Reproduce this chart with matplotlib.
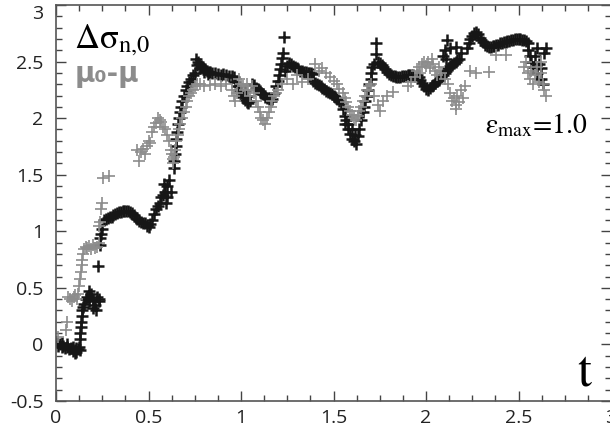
import matplotlib
matplotlib.use("Agg")
import matplotlib.pyplot as plt
from matplotlib.ticker import MultipleLocator

# black "+" series: delta sigma_{n,0}(t)
black_t = [
    0.005, 0.01, 0.02, 0.03, 0.03, 0.04, 0.05, 0.06, 0.06, 0.07, 0.08, 0.09, 0.09, 0.10, 0.10,
    0.11, 0.11, 0.12, 0.125, 0.13,
    0.13, 0.13, 0.135, 0.135, 0.14, 0.14, 0.145,
    0.15, 0.16, 0.17, 0.18, 0.18, 0.19, 0.20, 0.20, 0.21, 0.215, 0.22, 0.23, 0.235,
    0.227,
    0.24, 0.24, 0.245, 0.25,
    0.26, 0.27, 0.28, 0.29, 0.30, 0.31, 0.32, 0.33, 0.34, 0.35, 0.36, 0.37, 0.38, 0.39, 0.40,
    0.41, 0.42, 0.43, 0.44, 0.45, 0.46, 0.47, 0.48, 0.49, 0.50, 0.51,
    0.52, 0.53, 0.54, 0.55, 0.56, 0.57, 0.58, 0.585, 0.59, 0.595, 0.60, 0.60, 0.61, 0.62,
    0.64, 0.64, 0.645, 0.65, 0.65, 0.655, 0.66, 0.665, 0.67, 0.675, 0.68,
    0.69, 0.70, 0.71, 0.72, 0.73, 0.74, 0.75,
    0.755, 0.765, 0.775, 0.785, 0.795, 0.805, 0.815, 0.825, 0.835, 0.845,
    0.76, 0.78, 0.80, 0.82,
    0.86, 0.875, 0.89, 0.905, 0.92, 0.935, 0.95, 0.96,
    0.97, 0.98, 0.99, 1.00, 1.01, 1.02, 1.03, 1.04, 1.05, 1.035, 1.02,
    1.06, 1.07, 1.08, 1.09, 1.10, 1.11, 1.12, 1.13, 1.14, 1.15, 1.16, 1.17,
    1.18, 1.19, 1.20, 1.205, 1.21, 1.215, 1.22, 1.225,
    1.235,
    1.24, 1.25, 1.26, 1.27, 1.28, 1.29, 1.30, 1.31, 1.32, 1.33, 1.34, 1.35, 1.36, 1.37, 1.38, 1.39,
    1.39, 1.40, 1.41, 1.42, 1.43, 1.44, 1.45, 1.46, 1.47, 1.48, 1.49, 1.50, 1.51, 1.52, 1.53, 1.54,
    1.55, 1.56, 1.56, 1.57, 1.58, 1.59, 1.60, 1.61, 1.62, 1.615, 1.60, 1.63, 1.58,
    1.64, 1.65, 1.66, 1.665, 1.67, 1.68, 1.685, 1.69, 1.70, 1.70, 1.71, 1.72,
    1.73, 1.73,
    1.74, 1.75, 1.76, 1.77, 1.78, 1.79, 1.80, 1.81, 1.82, 1.83, 1.84, 1.85, 1.86, 1.87, 1.88,
    1.89, 1.90, 1.91, 1.92, 1.93,
    1.95, 1.96, 1.97, 1.98, 1.99, 2.00, 2.01, 2.02, 2.03,
    2.04, 2.05, 2.06, 2.07, 2.08, 2.09, 2.10, 2.11, 2.12, 2.13, 2.14, 2.15, 2.16, 2.17, 2.18,
    2.09, 2.10, 2.11, 2.115, 2.13, 2.16, 2.19,
    2.22, 2.23, 2.24, 2.25, 2.26, 2.27, 2.28, 2.29, 2.30, 2.31, 2.32, 2.33, 2.34, 2.35, 2.36,
    2.37, 2.38, 2.39, 2.40, 2.41, 2.42, 2.43, 2.44, 2.45, 2.46, 2.47, 2.48, 2.49, 2.50, 2.51,
    2.52, 2.53, 2.54, 2.55,
    2.55, 2.56, 2.57, 2.58, 2.59, 2.60, 2.60, 2.61, 2.62, 2.63, 2.62, 2.64, 2.65,
]
black_y = [
    0.02, -0.01, 0.00, -0.02, 0.01, -0.01, -0.03, -0.02, 0.00, -0.04, -0.03, -0.06, -0.02, -0.05, -0.08,
    -0.07, -0.03, -0.04, -0.02, -0.05,
    0.05, 0.10, 0.15, 0.20, 0.25, 0.30, 0.33,
    0.36, 0.40, 0.42, 0.38, 0.47, 0.45, 0.40, 0.32, 0.35, 0.30, 0.42, 0.38, 0.40,
    0.69,
    0.88, 0.94, 0.98, 1.02,
    1.10, 1.11, 1.12, 1.13, 1.13, 1.14, 1.15, 1.16, 1.17, 1.17, 1.18, 1.18, 1.18, 1.18, 1.17,
    1.16, 1.14, 1.12, 1.11, 1.09, 1.08, 1.07, 1.07, 1.05, 1.04, 1.06,
    1.10, 1.15, 1.20, 1.22, 1.25, 1.30, 1.32, 1.42, 1.35, 1.25, 1.40, 1.30, 1.45, 1.35,
    1.56, 1.62, 1.68, 1.75, 1.82, 1.88, 1.95, 2.00, 2.05, 2.10, 2.15,
    2.20, 2.25, 2.28, 2.32, 2.35, 2.38, 2.40,
    2.52, 2.50, 2.48, 2.46, 2.44, 2.43, 2.42, 2.41, 2.41, 2.40,
    2.47, 2.44, 2.41, 2.39,
    2.40, 2.39, 2.38, 2.39, 2.38, 2.37, 2.37, 2.36,
    2.32, 2.28, 2.25, 2.22, 2.19, 2.16, 2.14, 2.13, 2.15, 2.20, 2.24,
    2.30, 2.29, 2.27, 2.26, 2.24, 2.22, 2.21, 2.19, 2.18, 2.17, 2.15, 2.17,
    2.22, 2.28, 2.33, 2.38, 2.43, 2.48, 2.53, 2.58,
    2.72,
    2.42, 2.46, 2.49, 2.48, 2.46, 2.45, 2.44, 2.43, 2.42, 2.42, 2.41, 2.41, 2.40, 2.40, 2.40, 2.39,
    2.33, 2.31, 2.30, 2.29, 2.28, 2.27, 2.26, 2.24, 2.23, 2.22, 2.21, 2.20, 2.19, 2.17, 2.15, 2.13,
    2.08, 2.02, 1.95, 1.98, 1.90, 1.86, 1.82, 1.80, 1.77, 1.85, 1.90, 1.84, 1.95,
    1.90, 1.98, 2.05, 2.10, 2.15, 2.20, 2.25, 2.30, 2.35, 2.40, 2.45, 2.48,
    2.66, 2.57,
    2.50, 2.49, 2.47, 2.45, 2.43, 2.41, 2.39, 2.38, 2.37, 2.37, 2.36, 2.36, 2.36, 2.37, 2.37,
    2.37, 2.38, 2.38, 2.38, 2.38,
    2.38, 2.36, 2.34, 2.31, 2.28, 2.26, 2.25, 2.27, 2.28,
    2.29, 2.31, 2.33, 2.34, 2.36, 2.38, 2.40, 2.42, 2.44, 2.46, 2.47, 2.49, 2.50, 2.51, 2.52,
    2.55, 2.60, 2.52, 2.69, 2.62, 2.63, 2.58,
    2.62, 2.66, 2.70, 2.73, 2.75, 2.76, 2.74, 2.71, 2.69, 2.67, 2.65, 2.64, 2.63, 2.63, 2.64,
    2.64, 2.65, 2.65, 2.66, 2.66, 2.67, 2.67, 2.68, 2.68, 2.69, 2.69, 2.70, 2.70, 2.70, 2.70,
    2.69, 2.69, 2.68, 2.66,
    2.60, 2.55, 2.50, 2.45, 2.55, 2.62, 2.40, 2.48, 2.35, 2.30, 2.44, 2.58, 2.62,
]

# grey "+" series: mu_0 - mu
gray_t = [
    0.01, 0.055, 0.06, 0.065, 0.075, 0.085, 0.095, 0.105, 0.115, 0.12,
    0.125, 0.13, 0.135, 0.14, 0.14, 0.145,
    0.15, 0.16, 0.17, 0.18, 0.19, 0.20, 0.21, 0.22, 0.23, 0.235,
    0.24, 0.245, 0.25, 0.255, 0.285,
    0.44, 0.45, 0.46, 0.47, 0.48, 0.49, 0.50, 0.51,
    0.52, 0.53, 0.54, 0.55, 0.56, 0.57, 0.58, 0.59, 0.60, 0.61,
    0.62, 0.625, 0.63, 0.635, 0.64, 0.645,
    0.65, 0.66, 0.665, 0.67, 0.68, 0.69, 0.70, 0.71, 0.72, 0.73, 0.74, 0.75, 0.76, 0.78, 0.80,
    0.83, 0.86, 0.89,
    0.92, 0.95, 0.96, 0.97, 0.98, 0.99, 1.00, 1.01, 1.02, 1.03, 1.04, 1.05, 1.06, 1.07, 1.08,
    1.09, 1.10, 1.11, 1.12, 1.13, 1.14, 1.15, 1.16, 1.17, 1.18, 1.19, 1.20, 1.22, 1.25, 1.28,
    1.30, 1.33, 1.36, 1.40, 1.42, 1.44, 1.46, 1.48, 1.50, 1.52, 1.53, 1.55, 1.56, 1.57, 1.58,
    1.59, 1.60, 1.61, 1.62, 1.63, 1.64, 1.65, 1.66, 1.67, 1.68, 1.69, 1.70, 1.72, 1.74, 1.75,
    1.77, 1.79, 1.82,
    1.90, 1.92, 1.94, 1.95, 1.96, 1.97, 1.98, 1.99, 2.00, 2.01, 2.02, 2.03, 2.04, 2.05, 2.06,
    2.07, 2.08, 2.10, 2.12,
    2.13, 2.14, 2.15, 2.16, 2.17, 2.18, 2.19, 2.20, 2.21, 2.16,
    2.24, 2.27, 2.34, 2.38, 2.43,
    2.53, 2.54, 2.55, 2.56, 2.57, 2.58, 2.59, 2.60, 2.61, 2.62, 2.63, 2.64, 2.65, 2.62,
]
gray_y = [
    0.07, 0.13, 0.20, 0.42, 0.40, 0.38, 0.42, 0.44, 0.40, 0.45,
    0.52, 0.58, 0.64, 0.70, 0.75, 0.80,
    0.84, 0.86, 0.85, 0.87, 0.84, 0.88, 0.85, 0.86, 0.90, 1.05,
    1.08, 1.20, 1.25, 1.47, 1.49,
    1.72, 1.62, 1.70, 1.73, 1.68, 1.75, 1.80, 1.78,
    1.88, 1.92, 1.96, 2.00, 1.98, 1.97, 1.92, 1.90, 1.85, 1.80,
    1.72, 1.68, 1.64, 1.60, 1.66, 1.72,
    1.80, 1.85, 1.90, 1.95, 2.00, 2.05, 2.10, 2.15, 2.20, 2.22, 2.25, 2.28, 2.30, 2.30, 2.28,
    2.29, 2.30, 2.28,
    2.30, 2.25, 2.20, 2.15, 2.22, 2.35, 2.30, 2.28, 2.25, 2.30, 2.25, 2.20, 2.28, 2.22, 2.15,
    2.10, 2.05, 2.00, 1.98, 1.95, 2.00, 2.05, 2.10, 2.15, 2.20, 2.22, 2.25, 2.30, 2.35, 2.30,
    2.38, 2.32, 2.35, 2.48, 2.42, 2.44, 2.40, 2.36, 2.33, 2.30, 2.26, 2.22, 2.18, 2.14, 2.10,
    2.06, 2.03, 2.00, 1.98, 2.02, 2.06, 2.10, 2.15, 2.20, 2.25, 2.28, 2.30, 2.20, 2.12, 2.06,
    2.15, 2.20, 2.23,
    2.28, 2.32, 2.36, 2.42, 2.45, 2.40, 2.48, 2.50, 2.46, 2.50, 2.44, 2.52, 2.48, 2.42, 2.38,
    2.45, 2.40, 2.35, 2.30,
    2.22, 2.15, 2.18, 2.12, 2.20, 2.14, 2.25, 2.18, 2.28, 2.08,
    2.42, 2.40, 2.41, 2.56, 2.56,
    2.45, 2.50, 2.40, 2.35, 2.42, 2.30, 2.38, 2.45, 2.32, 2.40, 2.30, 2.25, 2.20, 2.50,
]

x_ticks = [0, 0.5, 1, 1.5, 2, 2.5, 3]
y_ticks = [-0.5, 0, 0.5, 1, 1.5, 2, 2.5, 3]


def plot_graph():
    plt.rcParams['mathtext.fontset'] = 'stix'
    fig = plt.figure(figsize=(6.1, 4.36), dpi=100)
    ax = fig.add_axes([56 / 610, 35 / 436, 555 / 610, 396 / 436])

    ax.plot(black_t, black_y, '+', color='#161616', ms=8, mew=1.8)
    ax.plot(gray_t, gray_y, '+', color='#8c8c8c', ms=8, mew=1.2)

    ax.set_xlim(0, 3)
    ax.set_ylim(-0.5, 3)
    ax.set_xticks(x_ticks)
    ax.set_yticks(y_ticks)
    ax.set_xticklabels(['0', '0.5', '1', '1.5', '2', '2.5', '3'])
    ax.set_yticklabels(['-0.5', '0', '0.5', '1', '1.5', '2', '2.5', '3'])
    ax.xaxis.set_minor_locator(MultipleLocator(0.125))
    ax.yaxis.set_minor_locator(MultipleLocator(0.1))
    ax.tick_params(which='both', direction='in', top=True, right=True,
                   color='#444444', width=1.0)
    ax.tick_params(which='major', length=7)
    ax.tick_params(which='minor', length=4)
    ax.tick_params(axis='x', pad=6)
    ax.tick_params(axis='y', pad=9)
    for lab in ax.get_xticklabels() + ax.get_yticklabels():
        lab.set_fontfamily('Open Sans')
        lab.set_fontsize(14)
        lab.set_color('#222222')
    ax.get_yticklabels()[-1].set_verticalalignment('top')
    for sp in ax.spines.values():
        sp.set_color('#555555')
        sp.set_linewidth(1.2)

    ax.text(0.10, 2.62, r'$\mathrm{\Delta\sigma_{n{,}0}}$', fontsize=25, color='black')
    ax.text(0.10, 2.32, 'μ₀-μ', fontsize=20, fontweight='bold', color='#8c8c8c',
            family='DejaVu Sans')
    ax.text(2.32, 1.87, r'$\mathrm{\varepsilon_{max}}$=1.0', fontsize=20,
            color='black', family='STIXGeneral')
    ax.text(2.82, -0.36, 't', fontsize=36, color='black', family='STIXGeneral')

    fig.savefig('out.png', dpi=100)


def main():
    plot_graph()


if __name__ == '__main__':
    main()
